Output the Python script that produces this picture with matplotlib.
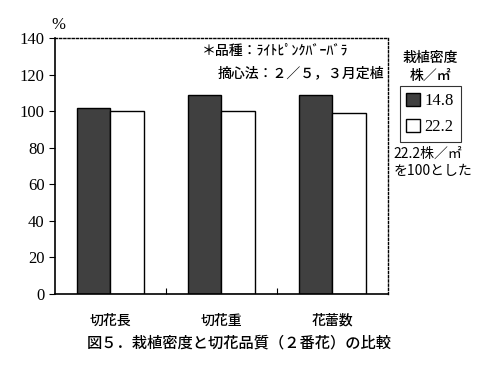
import matplotlib.pyplot as plt
import numpy as np
from matplotlib.patches import Patch

plt.rcParams['font.family'] = ['Noto Sans CJK JP', 'DejaVu Sans']

# 品質項目と相対値（22.2株/㎡ = 100）
items = ["切花長", "切花重", "花蕾数"]
density_148 = [102, 109, 109]
density_222 = [100, 100, 99]
legend_labels = ["14.8", "22.2"]
yticks = [0, 20, 40, 60, 80, 100, 120, 140]

fig = plt.figure(figsize=(4.79, 3.73), dpi=100)
ax = fig.add_axes([0.1148, 0.2118, 0.695, 0.686])

x = np.arange(len(items))
w = 0.3
ax.bar(x - w / 2, density_148, w, color="#404040", edgecolor="black", linewidth=1.0)
ax.bar(x + w / 2, density_222, w, color="white", edgecolor="black", linewidth=1.0)

ax.set_xlim(-0.5, 2.5)
ax.set_ylim(0, 140)
ax.set_yticks(yticks)
ax.set_yticklabels([str(t) for t in yticks], family="Liberation Serif", fontsize=12)
ax.tick_params(axis="y", direction="out", length=4, width=0.8)
ax.set_xticks(x)
ax.set_xticklabels(items, fontsize=10, weight="medium")
ax.tick_params(axis="x", length=0, pad=14)
ax.set_xticks([0.5, 1.5], minor=True)
ax.tick_params(axis="x", which="minor", direction="in", length=4, width=0.8)

for s in ["top", "right"]:
    ax.spines[s].set_linestyle((0, (1.5, 1.5)))
    ax.spines[s].set_linewidth(1.0)
ax.spines["left"].set_linewidth(1.2)
ax.spines["bottom"].set_linewidth(1.2)

ax.text(-0.53, 143, "%", fontsize=12, ha="left", va="bottom", family="Liberation Serif")

ax.text(0.82, 133, "＊品種：ﾗｲﾄﾋﾟﾝｸﾊﾞｰﾊﾞﾗ", fontsize=10, ha="left", va="center",
        weight="medium")
ax.text(2.47, 121, "摘心法：２／５，３月定植", fontsize=10, ha="right", va="center",
        weight="medium")

fig.text(0.898, 0.845, "栽植密度", fontsize=10, ha="center", va="center", weight="medium")
fig.text(0.898, 0.797, "株／㎡", fontsize=10, ha="center", va="center", weight="medium")

handles = [Patch(facecolor="#404040", edgecolor="black"),
           Patch(facecolor="white", edgecolor="black")]
leg = fig.legend(handles, legend_labels, loc="center", bbox_to_anchor=(0.898, 0.694),
                 fancybox=False, edgecolor="black", handlelength=0.8, handleheight=0.8,
                 handletextpad=0.3, borderpad=0.4, labelspacing=0.6,
                 prop={"family": "Liberation Serif", "size": 12})
leg.get_frame().set_linewidth(0.8)

fig.text(0.822, 0.565, "22.2株／㎡\nを100とした", fontsize=10, ha="left", va="center",
         linespacing=1.35)

fig.text(0.5, 0.08, "図５．栽植密度と切花品質（２番花）の比較", fontsize=11, ha="center",
         va="center", weight="medium")

fig.savefig("out.png", dpi=100)
